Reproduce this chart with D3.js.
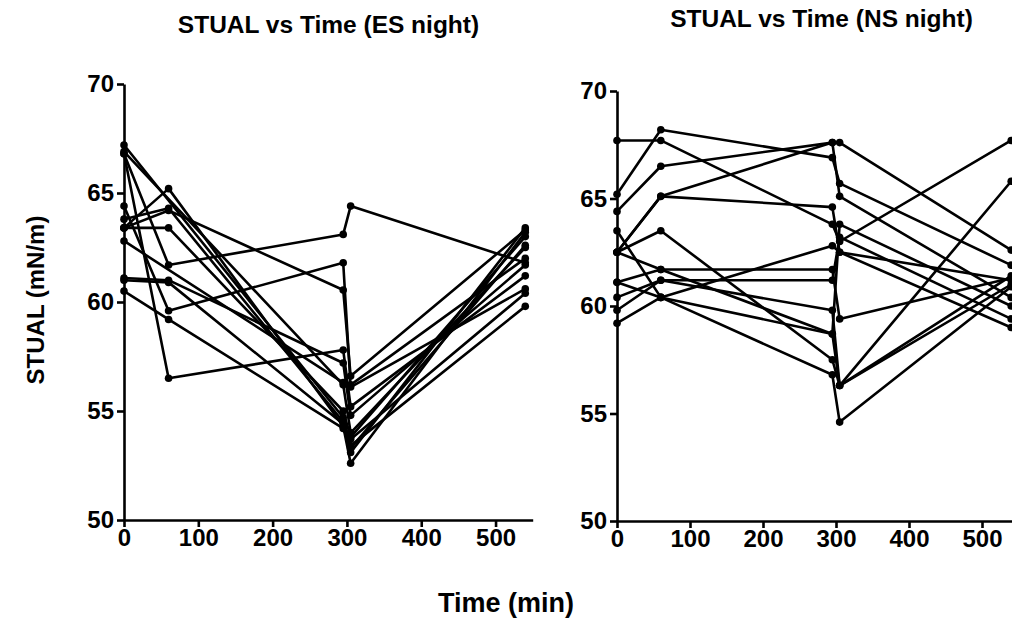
<!DOCTYPE html>
<html>
<head>
<meta charset="utf-8">
<script src="https://cdn.jsdelivr.net/npm/d3@7"></script>
<style>
  html, body { margin: 0; padding: 0; background: #fff; }
  svg text { font-family: "Liberation Sans", Arial, sans-serif; font-weight: bold; fill: #000; }
</style>
</head>
<body>
<svg id="chart" width="1012" height="624"></svg>
<script>
// Time points (min)
const times = [0, 60, 295, 305, 540];

// ES night subjects: STUAL (mN/m) at each time point (null = not measured)
const esSeries = [
  [63.4, 65.2, 54.3, 52.6, 63.2],
  [63.8, 64.3, 54.5, 53.1, 63.4],
  [63.4, 64.2, 60.55, 56.6, 63.3],
  [66.8, 61.7, 63.1, 64.4, 61.8],
  [63.4, 63.4, 55.0, 53.8, 63.0],
  [67.2, null, 54.7, 53.3, 62.6],
  [66.9, null, 56.2, 54.0, 62.5],
  [66.8, 56.5, 57.8, 55.2, 61.2],
  [64.4, 59.6, 61.8, 56.1, 60.6],
  [61.1, 61.0, 57.2, 54.8, 61.7],
  [61.0, 60.9, 54.4, 53.7, 60.4],
  [60.5, 59.2, 54.2, 53.4, 59.8],
  [62.8, null, 56.3, 56.2, 62.0]
];

// NS night subjects
const nsSeries = [
  [67.7, 67.7, 63.8, 63.0, 67.7],
  [65.2, 68.2, 66.9, 65.7, 61.9],
  [64.4, 66.5, 67.6, 67.6, 62.6],
  [62.5, 65.1, 67.6, 65.1, 60.4],
  [62.5, 63.5, 57.5, 56.3, 65.8],
  [63.5, 60.4, 56.8, 54.6, 60.9],
  [61.1, 61.7, 61.7, 59.4, 61.3],
  [60.4, 61.2, 59.8, 56.3, 61.0],
  [59.8, 61.2, 61.2, 63.2, 59.4],
  [59.2, 60.4, 62.8, 62.5, 61.2],
  [61.1, 60.4, 58.7, 63.8, 60.0],
  [62.5, 65.1, 64.6, 62.5, 59.0],
  [62.5, 61.7, 58.7, 56.3, 61.4]
];

const xTicks = [0, 100, 200, 300, 400, 500];
const yTicks = [50, 55, 60, 65, 70];
const titles = ["STUAL vs Time (ES night)", "STUAL vs Time (NS night)"];
const xLabel = "Time (min)";
const yLabel = "STUAL (mN/m)";

const svg = d3.select("#chart");

const panels = [
  { data: esSeries, title: titles[0], x0: 124, x1: 532.7, y0: 520, y1: 84, titleY: 33 },
  { data: nsSeries, title: titles[1], x0: 617, x1: 1018.5, y0: 521, y1: 91, titleY: 27 }
];

panels.forEach(p => {
  const x = d3.scaleLinear().domain([0, 550]).range([p.x0, p.x1]);
  const y = d3.scaleLinear().domain([50, 70]).range([p.y0, p.y1]);
  const g = svg.append("g");

  const xAxis = d3.axisBottom(x).tickValues(xTicks).tickSize(7).tickSizeOuter(0).tickPadding(2);
  const yAxis = d3.axisLeft(y).tickValues(yTicks).tickSize(7).tickSizeOuter(0).tickPadding(3);

  const gx = g.append("g").attr("transform", `translate(0,${p.y0})`).call(xAxis);
  const gy = g.append("g").attr("transform", `translate(${p.x0},0)`).call(yAxis);
  [gx, gy].forEach(a => {
    a.selectAll("path, line").attr("stroke", "#000").attr("stroke-width", 2.6);
    a.selectAll("text").style("font-size", "24px").style("font-weight", "bold")
      .style("font-family", "'Liberation Sans', Arial, sans-serif").attr("fill", "#000");
  });

  const line = d3.line().x(d => x(d.t)).y(d => y(d.v));

  p.data.forEach(s => {
    const pts = s.map((v, i) => ({ t: times[i], v })).filter(d => d.v !== null);
    g.append("path").datum(pts)
      .attr("d", line)
      .attr("fill", "none")
      .attr("stroke", "#000")
      .attr("stroke-width", 2.6)
      .attr("stroke-linejoin", "round");
    g.selectAll(null).data(pts).enter().append("circle")
      .attr("cx", d => x(d.t)).attr("cy", d => y(d.v)).attr("r", 3.8)
      .attr("fill", "#000");
  });

  g.append("text")
    .attr("x", p.x0 + 204.5)
    .attr("y", p.titleY)
    .attr("text-anchor", "middle")
    .style("font-size", "24.5px")
    .text(p.title);
});

svg.append("text")
  .attr("x", 506).attr("y", 612)
  .attr("text-anchor", "middle")
  .style("font-size", "27px")
  .text(xLabel);

svg.append("text")
  .attr("transform", "translate(44,300) rotate(-90)")
  .attr("text-anchor", "middle")
  .style("font-size", "24px")
  .text(yLabel);
</script>
</body>
</html>
